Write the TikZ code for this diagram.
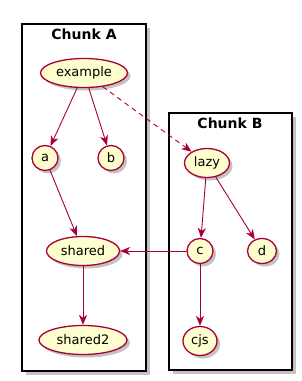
\documentclass[tikz,border=0pt]{standalone}
\usepackage{fontspec}
\setmainfont{DejaVu Sans}
\usepackage{tikz}
\usetikzlibrary{arrows.meta,positioning,shapes.geometric,shadows}
\definecolor{umlyellow}{RGB}{254,254,206}
\definecolor{umlred}{RGB}{168,0,54}
\definecolor{umlshadow}{RGB}{170,170,170}
\tikzset{
  >={Stealth[length=10pt, width=8pt, inset=3pt]},
  flow/.style={->, line width=0.9pt, draw=umlred},
  flowdash/.style={flow, dash pattern=on 5pt off 4pt},
  usecase/.style={
    ellipse,
    draw=umlred,
    line width=1.3pt,
    fill=umlyellow,
    inner sep=1pt,
    font=\fontsize{13}{15}\selectfont,
    drop shadow={shadow xshift=3pt, shadow yshift=-3pt, fill=umlshadow, opacity=0.7}
  },
  chunkframe/.style={
    draw=black,
    line width=1.5pt,
    fill=white,
    drop shadow={shadow xshift=4pt, shadow yshift=-4pt, fill=umlshadow, opacity=0.7}
  },
  chunktitle/.style={font=\fontsize{14}{16}\selectfont\bfseries}
}
\begin{document}
\begin{tikzpicture}[x=1pt, y=-1pt, node distance=20pt, on grid]
  \useasboundingbox (0,0) rectangle (302,381);

  % chunk frames
  \draw[chunkframe] (22,24) rectangle (146,371);
  \node[chunktitle] (titleA) at (84,34) {Chunk A};
  \draw[chunkframe] (169,113) rectangle (292,370);
  \node[chunktitle] (titleB) at (230,123) {Chunk B};

  % chunk A
  \node[usecase, minimum width=87pt, minimum height=29pt] (example) at (84,73) {example};
  \node[usecase, minimum width=26pt, minimum height=25pt, below left=85pt and 39pt of example] (a) {a};
  \node[usecase, minimum width=26pt, minimum height=25pt, below right=85pt and 27pt of example] (b) {b};
  \node[usecase, minimum width=73pt, minimum height=29pt] (shared) at (83,251) {shared};
  \node[usecase, minimum width=88pt, minimum height=29pt, below=89pt of shared] (shared2) {shared2};

  % chunk B
  \node[usecase, minimum width=45pt, minimum height=29pt] (lazy) at (207,163) {lazy};
  \node[usecase, minimum width=26pt, minimum height=25pt] (c) at (200,251) {c};
  \node[usecase, minimum width=29pt, minimum height=25pt, right=62pt of c] (d) {d};
  \node[usecase, minimum width=34pt, minimum height=29pt, below=90pt of c] (cjs) {cjs};

  \draw[flow] (example) -- (a);
  \draw[flow] (example) -- (b);
  \draw[flowdash] (example) -- (lazy);
  \draw[flow] (a) -- (shared);
  \draw[flow] (shared) -- (shared2);
  \draw[flow] (lazy) -- (c);
  \draw[flow] (lazy) -- (d);
  \draw[flow] (c) -- (shared);
  \draw[flow] (c) -- (cjs);

\end{tikzpicture}
\end{document}
